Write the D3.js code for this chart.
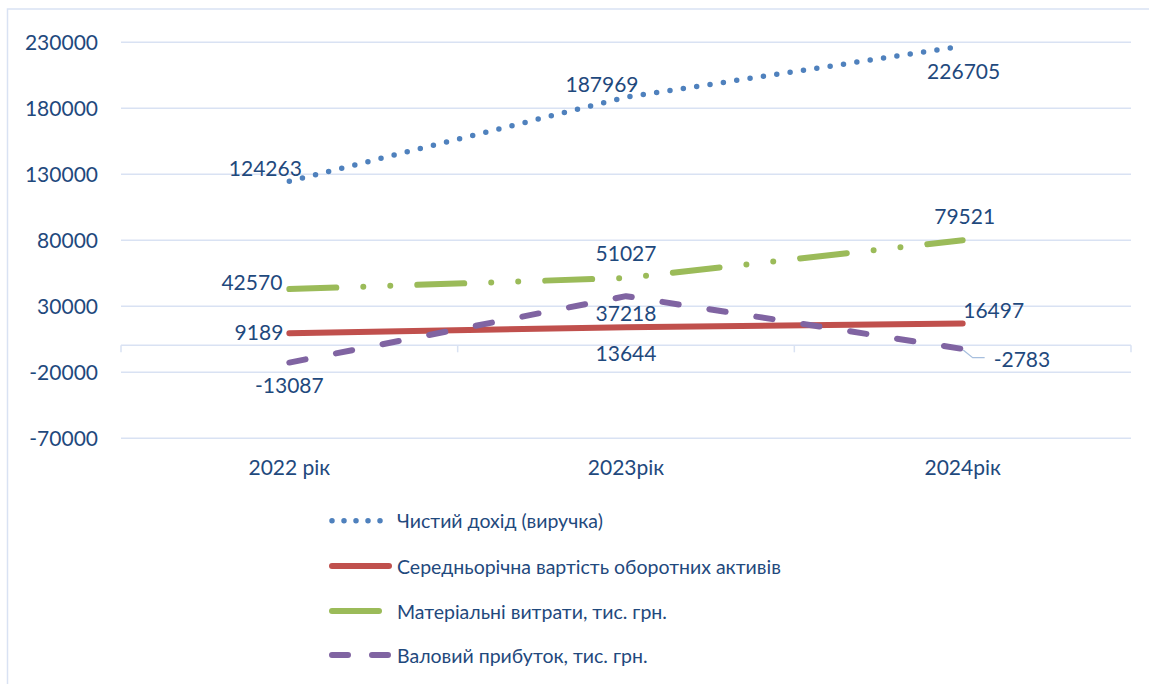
<!DOCTYPE html>
<html>
<head>
<meta charset="utf-8">
<script src="https://cdn.jsdelivr.net/npm/d3@7"></script>
<style>
  body { margin: 0; background: #fff; }
  text { font-family: Lato, "Open Sans", sans-serif; fill: #1F497D; }
</style>
</head>
<body>
<svg id="chart" width="1149" height="684"></svg>
<script>
// дані
var categories = ["2022 рік", "2023рік", "2024рік"];
var yTicks = [-70000, -20000, 30000, 80000, 130000, 180000, 230000];
var seriesNames = [
    "Чистий дохід (виручка)",
    "Середньорічна вартість оборотних активів",
    "Матеріальні витрати, тис. грн.",
    "Валовий прибуток, тис. грн."
];
var revenue = [124263, 187969, 226705];
var currentAssets = [9189, 13644, 16497];
var materialCosts = [42570, 51027, 79521];
var grossProfit = [-13087, 37218, -2783];

// оформлення серій
var styles = [
    { color: "#4F81BD", width: 5.5, dash: "0 13.5", legendDash: "0 12" },
    { color: "#C0504D", width: 6, dash: null, legendDash: null },
    { color: "#9BBB59", width: 6, dash: "47 27 0 27 0 27", legendDash: "47 27 0 27 0 27" },
    { color: "#8064A2", width: 6, dash: "16.5 31", legendDash: "16 24" }
];
// розміщення підписів: [anchor, dx, dy] відносно точки
var labelPlace = [
    [["middle", -24, -14], ["middle", -24, -14], ["middle", 1, 24]],
    [["end", -6, -2], ["middle", 0, 25], ["middle", 31, -14]],
    [["end", -7, -8], ["middle", 0, -25], ["middle", 2, -25]],
    [["middle", 0, 22], ["middle", 0, 16], ["start", 31, 10]]
];

var allSeries = [revenue, currentAssets, materialCosts, grossProfit];

var svg = d3.select("#chart");
var plotLeft = 121, plotRight = 1131, plotTop = 41.7, plotBottom = 437.7;
var gridColor = "#D9E2F3";

// рамка
svg.append("path")
    .attr("d", "M7.5,684V9H1149")
    .attr("fill", "none")
    .attr("stroke", gridColor)
    .attr("stroke-width", 1.5);

var x = d3.scaleBand().domain(categories).range([plotLeft, plotRight]);
var y = d3.scaleLinear().domain([-70000, 230000]).range([plotBottom, plotTop]);
function px(i) { return x(categories[i]) + x.bandwidth() / 2; }

// сітка і підписи осі Y
var yAxis = svg.append("g")
    .attr("transform", "translate(" + plotLeft + ",0)")
    .call(d3.axisLeft(y).tickValues(yTicks).tickSize(-(plotRight - plotLeft)).tickPadding(23)
        .tickFormat(function (d) { return String(d); }));
yAxis.select(".domain").remove();
yAxis.selectAll("line").attr("stroke", gridColor).attr("stroke-width", 1.5);
yAxis.selectAll("text")
    .attr("font-size", 21)
    .attr("font-family", "Lato, 'Open Sans', sans-serif")
    .attr("fill", "#1F497D")
    .attr("dy", "0.35em");

// горизонтальна вісь на нулі з поділками між категоріями
var y0 = y(0);
svg.append("line")
    .attr("x1", plotLeft).attr("x2", plotRight)
    .attr("y1", y0).attr("y2", y0)
    .attr("stroke", gridColor).attr("stroke-width", 1.5);
var tickXs = categories.map(function (c) { return x(c); }).concat([plotRight]);
svg.selectAll(".xtick").data(tickXs).enter().append("line")
    .attr("class", "xtick")
    .attr("x1", function (d) { return d; }).attr("x2", function (d) { return d; })
    .attr("y1", y0).attr("y2", y0 + 7)
    .attr("stroke", gridColor).attr("stroke-width", 1.5);

// підписи категорій
var xAxis = svg.append("g")
    .attr("transform", "translate(0," + plotBottom + ")")
    .call(d3.axisBottom(x).tickSize(0).tickPadding(22));
xAxis.select(".domain").remove();
xAxis.selectAll("text")
    .attr("font-size", 21)
    .attr("font-family", "Lato, 'Open Sans', sans-serif")
    .attr("fill", "#1F497D");

// лінії
var line = d3.line()
    .x(function (d, i) { return px(i); })
    .y(function (d) { return y(d); });

allSeries.forEach(function (values, s) {
    var st = styles[s];
    svg.append("path")
        .datum(values)
        .attr("d", line)
        .attr("fill", "none")
        .attr("stroke", st.color)
        .attr("stroke-width", st.width)
        .attr("stroke-linecap", "round")
        .attr("stroke-linejoin", "round")
        .attr("stroke-dasharray", st.dash);
});

// виносна лінія для останнього підпису валового прибутку
var gx = px(2), gy = y(grossProfit[2]);
svg.append("path")
    .attr("d", "M" + (gx + 0.5) + "," + (gy + 1) + "L" + (gx + 10) + "," + (gy + 8.7) + "H" + (gx + 22))
    .attr("fill", "none")
    .attr("stroke", "#A7BFDE")
    .attr("stroke-width", 1.2);

// підписи значень
allSeries.forEach(function (values, s) {
    values.forEach(function (v, i) {
        var p = labelPlace[s][i];
        svg.append("text")
            .attr("x", px(i) + p[1])
            .attr("y", y(v) + p[2])
            .attr("text-anchor", p[0])
            .attr("dominant-baseline", "central")
            .attr("font-size", 21)
            .text(String(v));
    });
});

// легенда
var legendY = [520.7, 566, 611, 655];
seriesNames.forEach(function (name, s) {
    var st = styles[s];
    var ly = legendY[s];
    svg.append("line")
        .attr("x1", 332).attr("x2", 389)
        .attr("y1", ly).attr("y2", ly)
        .attr("stroke", st.color)
        .attr("stroke-width", st.width)
        .attr("stroke-linecap", "round")
        .attr("stroke-dasharray", st.legendDash);
    svg.append("text")
        .attr("x", 397)
        .attr("y", ly)
        .attr("dominant-baseline", "central")
        .attr("font-size", 19.5)
        .text(name);
});
</script>
</body>
</html>
